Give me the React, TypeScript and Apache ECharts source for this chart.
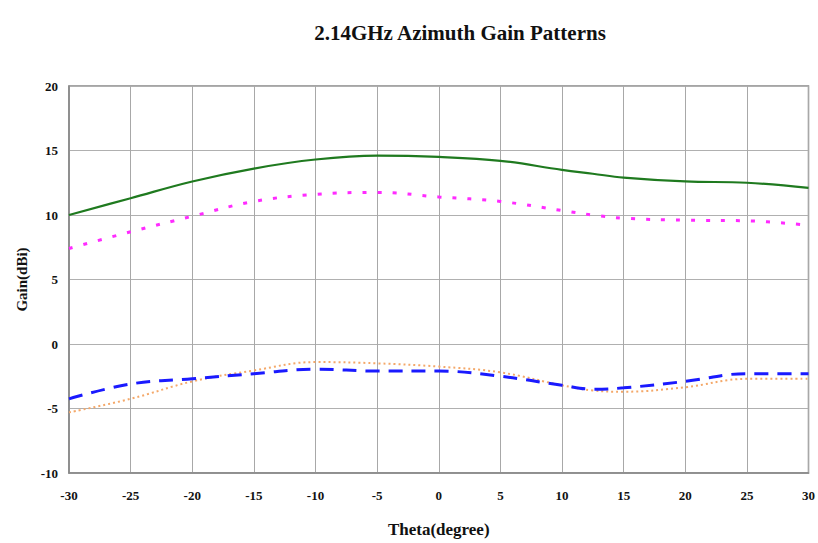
import React, { useEffect, useRef } from "react";
import * as echarts from "echarts";

const theta = [-30, -25, -20, -15, -10, -5, 0, 5, 10, 12.5, 15, 20, 25, 30];
const greenSolid = [10.0, 11.3, 12.6, 13.6, 14.3, 14.6, 14.5, 14.2, 13.5, 13.2, 12.9, 12.6, 12.5, 12.1];
const magentaDot = [7.4, 8.7, 9.9, 11.05, 11.6, 11.75, 11.4, 11.05, 10.35, 10.0, 9.75, 9.6, 9.55, 9.2];
const blueDash = [-4.25, -3.1, -2.7, -2.3, -1.95, -2.1, -2.1, -2.5, -3.2, -3.5, -3.4, -2.9, -2.3, -2.3];
const orangeDot = [-5.3, -4.25, -2.9, -2.05, -1.4, -1.5, -1.75, -2.2, -3.2, -3.6, -3.7, -3.35, -2.7, -2.7];

const xTicks = [-30, -25, -20, -15, -10, -5, 0, 5, 10, 15, 20, 25, 30];
const yTicks = [-10, -5, 0, 5, 10, 15, 20];

const titleText = "2.14GHz Azimuth Gain Patterns";
const xName = "Theta(degree)";
const yName = "Gain(dBi)";

const pairs = (ys: number[]) => theta.map((x, i) => [x, ys[i]]);

export default function App() {
  const ref = useRef<HTMLDivElement>(null);
  useEffect(() => {
    if (!ref.current) return;
    const chart = echarts.init(ref.current, null, { renderer: "svg" });
    const font = "'Liberation Serif', 'DejaVu Serif', serif";
    chart.setOption({
      animation: false,
      backgroundColor: "#ffffff",
      title: {
        text: titleText,
        left: 455,
        top: 17,
        textAlign: "center",
        textStyle: { fontFamily: font, fontWeight: "bold", fontSize: 21, color: "#111" },
      },
      grid: { left: 69, right: 8, top: 86, bottom: 68, show: true, borderColor: "#888", borderWidth: 1.5 },
      xAxis: {
        type: "value",
        min: xTicks[0],
        max: xTicks[xTicks.length - 1],
        interval: 5,
        name: xName,
        nameLocation: "middle",
        nameGap: 48,
        nameTextStyle: { fontFamily: font, fontWeight: "bold", fontSize: 17, color: "#111" },
        axisLine: { show: true, onZero: false, lineStyle: { color: "#888", width: 1.5 } },
        axisTick: { show: false },
        axisLabel: { fontFamily: font, fontWeight: "bold", fontSize: 13, color: "#111", margin: 16 },
        splitLine: { show: true, lineStyle: { color: "#a8a8a8", width: 1 } },
      },
      yAxis: {
        type: "value",
        min: yTicks[0],
        max: yTicks[yTicks.length - 1],
        interval: 5,
        name: yName,
        nameLocation: "middle",
        nameGap: 40,
        nameTextStyle: { fontFamily: font, fontWeight: "bold", fontSize: 15, color: "#111" },
        axisLine: { show: true, onZero: false, lineStyle: { color: "#888", width: 1.5 } },
        axisTick: { show: false },
        axisLabel: { fontFamily: font, fontWeight: "bold", fontSize: 13, color: "#111", margin: 11 },
        splitLine: { show: true, lineStyle: { color: "#b0b0b0", width: 1 } },
      },
      series: [
        {
          type: "line",
          data: pairs(greenSolid),
          smooth: 0.4,
          showSymbol: false,
          lineStyle: { color: "#1f7a1f", width: 2.2, type: "solid" },
        },
        {
          type: "line",
          data: pairs(magentaDot),
          smooth: 0.4,
          showSymbol: false,
          lineStyle: { color: "#ff2bff", width: 3, type: [4, 11] },
        },
        {
          type: "line",
          data: pairs(orangeDot),
          smooth: 0.4,
          showSymbol: false,
          lineStyle: { color: "#f4a869", width: 2, type: [2, 3] },
        },
        {
          type: "line",
          data: pairs(blueDash),
          smooth: 0.4,
          showSymbol: false,
          lineStyle: { color: "#1a1aff", width: 3, type: [14, 9] },
        },
      ],
    });
    return () => chart.dispose();
  }, []);
  return (
    <div
      ref={ref}
      style={{ position: "fixed", left: 0, top: 0, width: 818, height: 543 }}
    />
  );
}
